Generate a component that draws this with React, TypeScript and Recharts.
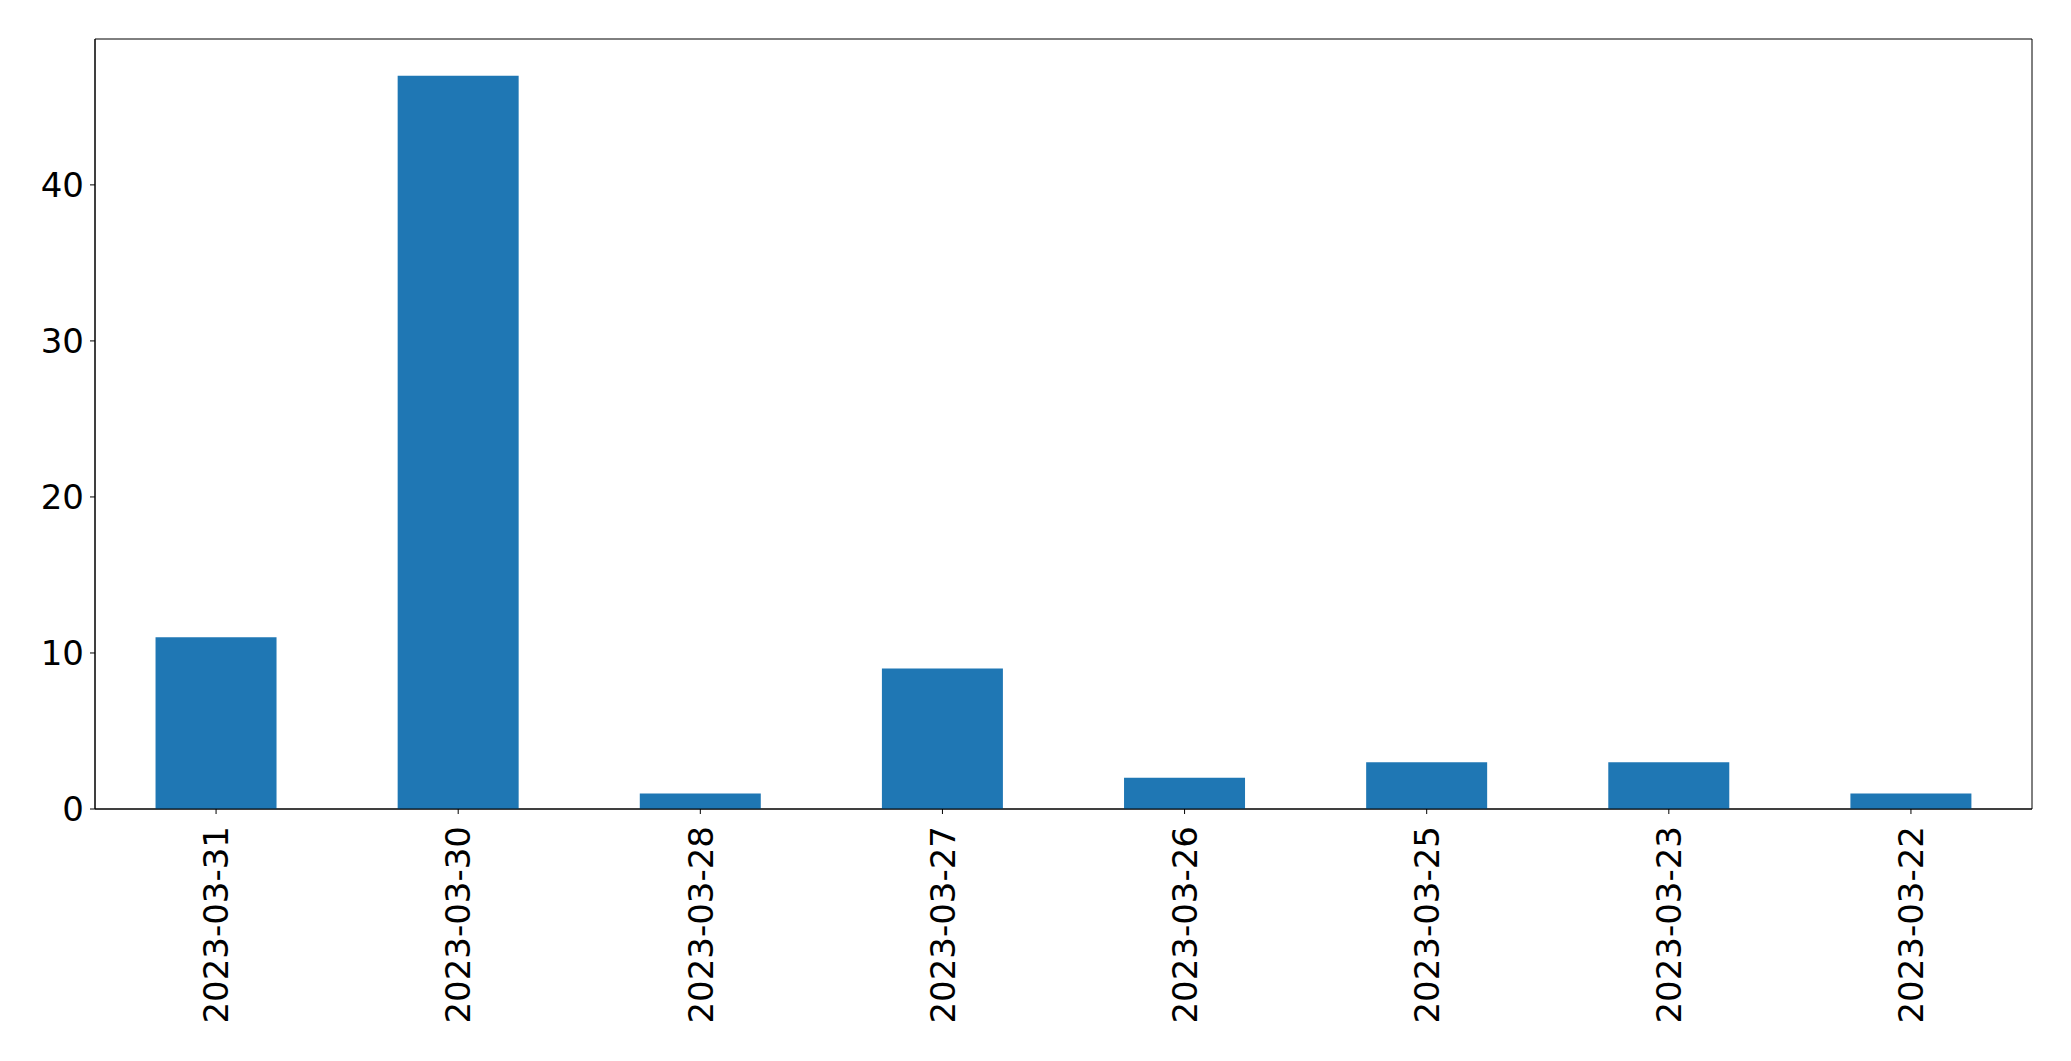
import { Bar, BarChart, ReferenceArea, XAxis, YAxis } from 'recharts';

// values, in the order shown (newest date first)
const dates = ['2023-03-31', '2023-03-30', '2023-03-28', '2023-03-27', '2023-03-26', '2023-03-25', '2023-03-23', '2023-03-22'];
const counts = [11, 47, 1, 9, 2, 3, 3, 1];
const yTicks = [0, 10, 20, 30, 40];
const Y_MAX = 49.35; // matplotlib's 5% headroom over 47

const chartData = dates.map((date, i) => ({ date, count: counts[i] }));

const FONT = '"DejaVu Sans", sans-serif';
const FONT_SIZE = 34;

interface TickProps {
  x: number;
  y: number;
  payload: { value: string };
}

// rotated date label: reads bottom-to-top, ends just under the tick
const DateTick = ({ x, y, payload }: TickProps) => {
  const ay = y + 10;
  return (
    <text
      x={x}
      y={ay}
      dy="0.36em"
      transform={`rotate(-90, ${x}, ${ay})`}
      textAnchor="end"
      fill="#000"
      fontSize={FONT_SIZE}
      fontFamily={FONT}
    >
      {payload.value}
    </text>
  );
};

const App = () => {
  return (
    <div style={{ position: 'absolute', left: 0, top: 0, background: '#fff' }}>
      <BarChart
        width={2071}
        height={1061}
        data={chartData}
        margin={{ top: 39, right: 39, left: 0, bottom: 0 }}
        barCategoryGap="25%"
      >
        <XAxis
          dataKey="date"
          height={252}
          interval={0}
          tick={DateTick}
          tickSize={5}
          stroke="#000"
          tickLine={{ stroke: '#000', strokeWidth: 1 }}
          axisLine={{ stroke: '#000', strokeWidth: 1 }}
        />
        <YAxis
          type="number"
          width={95}
          domain={[0, Y_MAX]}
          ticks={yTicks}
          allowDataOverflow
          tickSize={5}
          tickMargin={6}
          stroke="#000"
          tick={{ fill: '#000', fontSize: FONT_SIZE, fontFamily: FONT }}
          tickLine={{ stroke: '#000', strokeWidth: 1 }}
          axisLine={{ stroke: '#000', strokeWidth: 1 }}
        />
        <Bar dataKey="count" fill="#1f77b4" isAnimationActive={false} />
        {/* full frame around the plot, like matplotlib's four spines */}
        <ReferenceArea
          x1={dates[0]}
          x2={dates[dates.length - 1]}
          y1={0}
          y2={Y_MAX}
          fill="none"
          fillOpacity={0}
          stroke="#000"
          strokeWidth={1}
          ifOverflow="visible"
        />
      </BarChart>
    </div>
  );
};

export default App;
